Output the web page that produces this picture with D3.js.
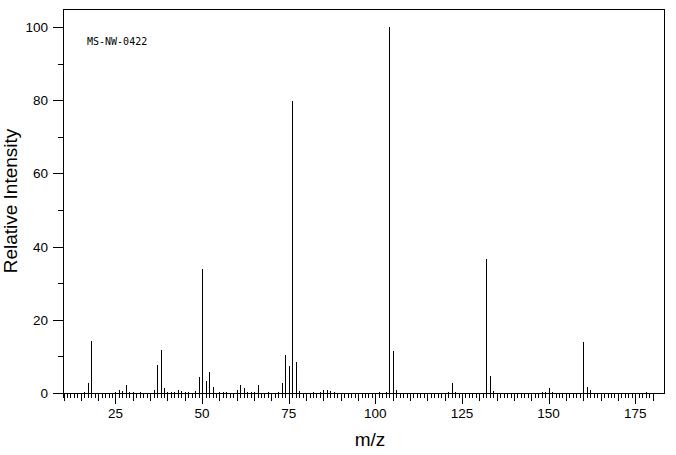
<!DOCTYPE html>
<html><head><meta charset="utf-8">
<script src="https://cdn.jsdelivr.net/npm/d3@7"></script>
<style>
html,body{margin:0;padding:0;background:#fff;}
svg text{font-family:"Liberation Sans",Arial,sans-serif;fill:#000;}
</style></head>
<body><svg id="c" width="676" height="455"></svg>
<script>
// m/z values and relative intensities
const mz = [16,17,18,25,26,27,28,29,30,32,36,37,38,39,40,41,42,43,44,45,46,48,49,50,51,52,53,55,56,57,60,61,62,63,64,65,66,69,72,73,74,75,76,77,78,82,84,85,86,87,88,101,103,104,105,106,121,122,123,132,133,134,148,149,150,151,160,161,162,178];
const intensity = [0.3,2.7,14.2,0.2,0.7,0.5,2.2,0.3,0.3,0.3,0.7,7.6,11.7,1.4,0.3,0.3,0.3,0.8,0.5,0.3,0.3,0.5,4.4,34.0,3.3,5.7,1.6,0.2,0.2,0.2,0.7,2.1,1.5,0.2,0.2,0.2,2.1,0.2,0.2,2.7,10.4,7.4,79.8,8.5,0.5,0.2,0.2,0.8,0.8,0.5,0.2,0.2,0.2,100,11.5,0.8,0.3,2.7,0.3,36.6,4.6,0.5,0.3,0.3,1.4,0.3,13.9,1.6,0.8,0.3];
const xTickLabels = [25,50,75,100,125,150,175];
const yTickLabels = [0,20,40,60,80,100];
const sampleId = "MS-NW-0422";
const xTitle = "m/z";
const yTitle = "Relative Intensity";

const svg = d3.select("#c");
const L = 63, R = 664, T = 9, B = 393;
const x = d3.scaleLinear().domain([9.85, 183.3]).range([L, R]);
const y = d3.scaleLinear().domain([0, 100]).range([B, 27]);
const px = v => Math.round(v) + 0.5;

// frame
svg.append("rect").attr("x", L + 0.5).attr("y", T + 0.5).attr("width", R - L).attr("height", B - T)
  .attr("fill", "none").attr("stroke", "#000").attr("stroke-width", 1).attr("shape-rendering", "crispEdges");

// bars
svg.append("g").selectAll("line").data(mz.map((m, i) => ({m, v: intensity[i]})))
  .join("line")
  .attr("x1", d => px(x(d.m))).attr("x2", d => px(x(d.m)))
  .attr("y1", px(y(0))).attr("y2", d => Math.round(y(d.v)))
  .attr("stroke", "#000").attr("stroke-width", 1).attr("shape-rendering", "crispEdges");

// x ticks (every 1 from 10 to 180)
const xt = d3.range(10, 181);
svg.append("g").selectAll("line").data(xt).join("line")
  .attr("x1", d => px(x(d))).attr("x2", d => px(x(d)))
  .attr("y1", B).attr("y2", d => B + (d % 25 === 0 ? 11 : d % 5 === 0 ? 8 : 5))
  .attr("stroke", "#000").attr("shape-rendering", "crispEdges");
svg.append("g").selectAll("text").data(xTickLabels).join("text")
  .attr("x", d => x(d)).attr("y", 418).attr("text-anchor", "middle")
  .attr("font-size", 13.5).text(d => d);

// y axis extension & ticks
svg.append("line").attr("x1", L + 0.5).attr("x2", L + 0.5).attr("y1", B).attr("y2", B + 5)
  .attr("stroke", "#000").attr("shape-rendering", "crispEdges");
const yt = d3.range(0, 101, 10);
svg.append("g").selectAll("line").data(yt).join("line")
  .attr("x1", d => d % 20 === 0 ? L - 10 : L - 5).attr("x2", L)
  .attr("y1", d => px(y(d))).attr("y2", d => px(y(d)))
  .attr("stroke", "#000").attr("shape-rendering", "crispEdges");
svg.append("g").selectAll("text").data(yTickLabels).join("text")
  .attr("x", 48).attr("y", d => y(d) + 5).attr("text-anchor", "end")
  .attr("font-size", 13.5).text(d => d);

// titles
svg.append("text").attr("x", 370).attr("y", 446).attr("text-anchor", "middle")
  .attr("font-size", 19).text(xTitle);
svg.append("text").attr("transform", "translate(17,201) rotate(-90)").attr("text-anchor", "middle")
  .attr("font-size", 19).text(yTitle);
svg.append("text").attr("x", 87).attr("y", 45).attr("font-size", 10)
  .style("font-family", "'DejaVu Sans Mono',monospace").text(sampleId);
</script></body></html>
